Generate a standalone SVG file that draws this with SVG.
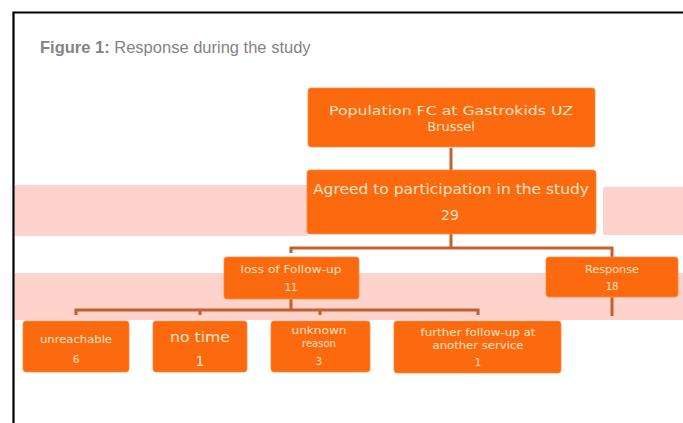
<svg xmlns="http://www.w3.org/2000/svg" width="683" height="423" viewBox="0 0 683 423">
<style>
.box{fill:#fb6a0e;stroke:#ff8a3d;stroke-width:0.8}
.t{font-family:"DejaVu Sans",Verdana,sans-serif;fill:#ffe2c4;text-anchor:middle}
.c{fill:none;stroke:#c65f2e;stroke-width:3}
.band{fill:#fdd3cb}
</style>
<rect x="0" y="0" width="683" height="423" fill="#ffffff"/>
<path d="M13.5 423 V12.5 H683" fill="none" stroke="#000" stroke-width="2.2"/>
<text x="40" y="53" font-family="'Liberation Sans',Arial,sans-serif" font-size="16.5" fill="#848484"><tspan font-weight="bold">Figure 1:</tspan> Response during the study</text>
<rect class="band" x="15" y="185" width="293" height="51"/>
<rect class="band" x="603" y="187" width="80" height="48"/>
<rect class="band" x="15" y="273" width="668" height="47"/>
<g id="connectors">
<path class="c" d="M451 148 V170"/>
<path class="c" d="M451 234 V248 M291 253 V248 H612 V257"/>
<path class="c" d="M291 299 V310 M76 315 V310 H478 V315 M200 310 V315 M320 310 V315"/>
<path class="c" d="M612 297 V316"/>
</g>
<g id="n_population">
<rect class="box" x="308" y="88" width="287" height="59" rx="3"/>
<text class="t" x="451" y="115" font-size="13" textLength="244" lengthAdjust="spacingAndGlyphs">Population FC at Gastrokids UZ</text>
<text class="t" x="451" y="131" font-size="13">Brussel</text>
</g>
<g id="n_agreed">
<rect class="box" x="307" y="170" width="289" height="64" rx="3"/>
<text class="t" x="451" y="194" font-size="14" textLength="276" lengthAdjust="spacingAndGlyphs">Agreed to participation in the study</text>
<text class="t" x="450" y="220" font-size="14">29</text>
</g>
<g id="n_loss">
<rect class="box" x="224" y="257" width="135" height="42" rx="3"/>
<text class="t" x="291" y="273" font-size="10" textLength="101" lengthAdjust="spacingAndGlyphs">loss of Follow-up</text>
<text class="t" x="291" y="291" font-size="10">11</text>
</g>
<g id="n_response">
<rect class="box" x="546" y="257" width="132" height="40" rx="3"/>
<text class="t" x="612" y="273" font-size="10" textLength="54" lengthAdjust="spacingAndGlyphs">Response</text>
<text class="t" x="612" y="290" font-size="10">18</text>
</g>
<g id="n_unreachable">
<rect class="box" x="23" y="321" width="106" height="51" rx="3"/>
<text class="t" x="76" y="343" font-size="10.5" textLength="72" lengthAdjust="spacingAndGlyphs">unreachable</text>
<text class="t" x="76" y="363" font-size="10.5">6</text>
</g>
<g id="n_notime">
<rect class="box" x="153" y="321" width="94" height="51" rx="3"/>
<text class="t" x="200" y="342" font-size="14" textLength="60" lengthAdjust="spacingAndGlyphs">no time</text>
<text class="t" x="200" y="366" font-size="14">1</text>
</g>
<g id="n_unknown">
<rect class="box" x="271" y="321" width="99" height="51" rx="3"/>
<text class="t" x="319" y="334" font-size="10" textLength="55" lengthAdjust="spacingAndGlyphs">unknown</text>
<text class="t" x="319" y="347" font-size="10">reason</text>
<text class="t" x="319" y="365" font-size="10">3</text>
</g>
<g id="n_further">
<rect class="box" x="394" y="321" width="167" height="52" rx="3"/>
<text class="t" x="478" y="336" font-size="10" textLength="115" lengthAdjust="spacingAndGlyphs">further follow-up at</text>
<text class="t" x="478" y="349" font-size="10" textLength="91" lengthAdjust="spacingAndGlyphs">another service</text>
<text class="t" x="478" y="366" font-size="10">1</text>
</g>
</svg>
